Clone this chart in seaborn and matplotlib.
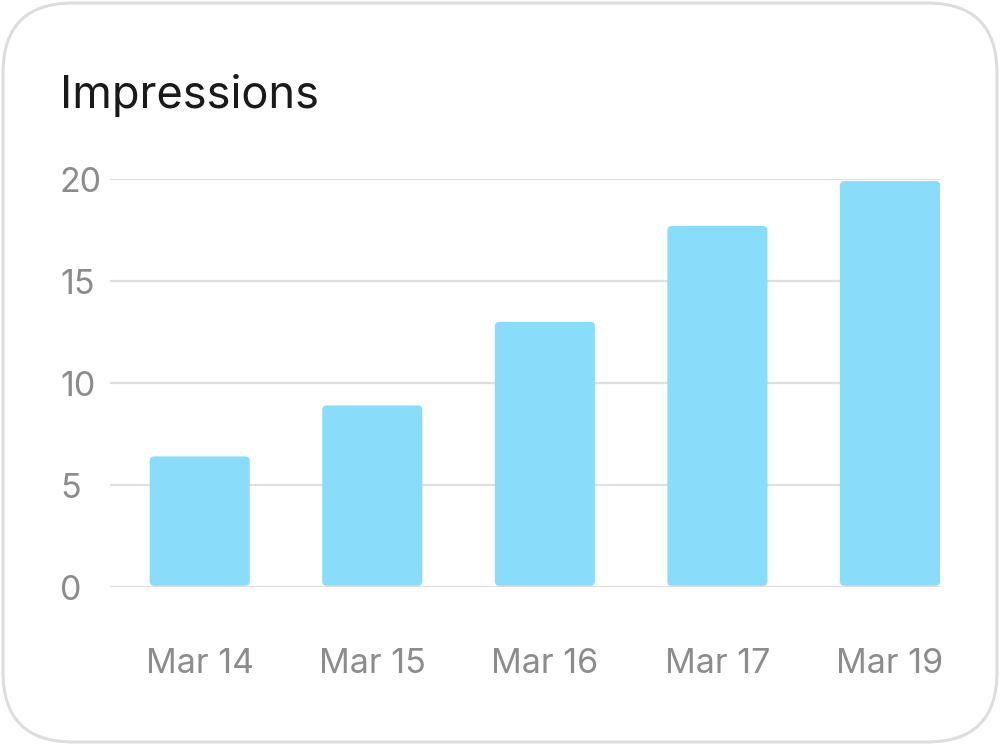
import matplotlib
matplotlib.use("Agg")
import matplotlib.pyplot as plt
import seaborn as sns
import pandas as pd
from matplotlib.patches import FancyBboxPatch

categories = ["Mar 14", "Mar 15", "Mar 16", "Mar 17", "Mar 19"]
impressions = [6.4, 8.9, 13.0, 17.7, 19.9]
y_ticks = [0, 5, 10, 15, 20]
y_tick_labels = ["0", "5", "10", "15", "20"]
title = "Impressions"

sns.set_theme(style="white")
plt.rcParams["font.family"] = ["Inter", "DejaVu Sans"]

W, H = 1000, 745
fig = plt.figure(figsize=(W / 100, H / 100), dpi=100)
fig.patch.set_facecolor("white")

# card border
card = FancyBboxPatch((3 / W, 3 / H), (W - 6) / W, (H - 6) / H,
                      boxstyle="round,pad=0,rounding_size=0.07",
                      mutation_aspect=W / H,
                      transform=fig.transFigure, facecolor="white",
                      edgecolor="#dfdcd9", linewidth=2.2, zorder=-5)
fig.patches.append(card)

ax_l, ax_r, ax_t, ax_b = 110, 940, 179, 587
ax = fig.add_axes([ax_l / W, 1 - ax_b / H, (ax_r - ax_l) / W, (ax_b - ax_t) / H])
ax.set_facecolor("none")
ax.set_zorder(2)

df = pd.DataFrame({"date": categories, "value": impressions})
sns.barplot(data=df, x="date", y="value", ax=ax, color="#89ddfb",
            saturation=1, width=0.58, zorder=3)

xmin, xmax = -0.52, 4.29
ax.set_xlim(xmin, xmax)
ax.set_ylim(0, 20)

# round the bar corners
xpp = (xmax - xmin) / (ax_r - ax_l)
ypp = 20 / (ax_b - ax_t)
for p in list(ax.patches):
    x, y = p.get_x(), p.get_y()
    w, h = p.get_width(), p.get_height()
    y0 = y + 1.2 * ypp
    rb = FancyBboxPatch((x, y0), w, h - 1.2 * ypp,
                        boxstyle="round,pad=0,rounding_size=%f" % (4.5 * xpp),
                        mutation_aspect=ypp / xpp,
                        facecolor="#89ddfb", edgecolor="none", zorder=3)
    p.remove()
    ax.add_patch(rb)

ax.set_yticks(y_ticks)
ax.set_yticklabels(y_tick_labels)
ax.grid(axis="y", color="#e1dedd", linewidth=1.6, zorder=0)
ax.set_axisbelow(True)
for s in ax.spines.values():
    s.set_visible(False)
ax.set_xlabel("")
ax.set_ylabel("")
ax.tick_params(axis="both", length=0, labelsize=24.5, labelcolor="#8c8c8c")
ax.tick_params(axis="y", pad=36)
for lbl in ax.get_yticklabels():
    lbl.set_horizontalalignment("left")
ax.tick_params(axis="x", pad=44)

fig.text(60 / W, 1 - 108 / H, title, fontsize=32.5, color="#1a1a1a",
         ha="left", va="baseline")

fig.savefig("out.png", dpi=100, facecolor="white")
